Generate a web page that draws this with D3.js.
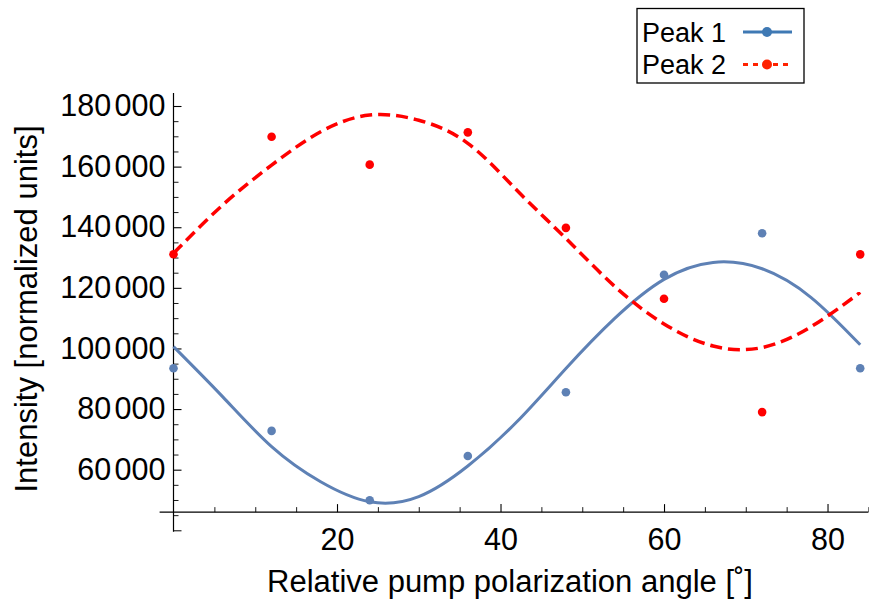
<!DOCTYPE html>
<html>
<head>
<meta charset="utf-8">
<script src="https://cdn.jsdelivr.net/npm/d3@7"></script>
<style>
  html, body { margin: 0; padding: 0; background: #fff; }
  svg { display: block; }
  text { font-family: "Liberation Sans", Arial, Helvetica, sans-serif; fill: #000; }
</style>
</head>
<body>
<svg id="chart" width="869" height="601"></svg>
<script>
// ---- data ----
const angles = [0, 12, 24, 36, 48, 60, 72, 84];
const peak1 = [93450, 72800, 49900, 64500, 85550, 124300, 138000, 93450];
const peak2 = [131100, 169850, 160650, 171300, 139800, 116400, 79000, 131050];

// fitted curves
const fitAngles = [0, 6, 12, 18, 24, 30, 36, 42, 48, 54, 60, 66, 72, 78, 84];
const fit1 = [100600, 84100, 67600, 56000, 49400, 51100, 61200, 75800, 93400, 110000, 122800, 128400, 126300, 116800, 101200];
const fit2 = [131400, 147300, 160500, 171500, 177000, 175300, 167700, 152200, 136300, 120400, 108100, 100800, 100300, 107200, 118500];

const seriesNames = ["Peak 1", "Peak 2"];
const xMajorTicks = [20, 40, 60, 80];
const xMinorTicks = [5, 10, 15, 25, 30, 35, 45, 50, 55, 65, 70, 75, 85];
const yLabeledTicks = [60000, 80000, 100000, 120000, 140000, 160000, 180000];
const yUnlabeledMajor = [40000];
const yMinorTicks = [45000, 50000, 55000, 65000, 70000, 75000, 85000, 90000, 95000, 105000, 110000, 115000,
                     125000, 130000, 135000, 145000, 150000, 155000, 165000, 170000, 175000];
const xTitle = "Relative pump polarization angle [˚]";
const yTitle = "Intensity [normalized units]";

// ---- layout ----
const svg = d3.select("#chart");
const x = d3.scaleLinear().domain([0, 85]).range([173.5, 868.4]);
const y = d3.scaleLinear().domain([40000, 180000]).range([530.3, 106]);
const xMinDom = -1.7, yAxisTop = 184300, yAxisBottom = 39500, xAxisAt = 46000;

const blue = "#5E81B5", red = "#FF0000";
const tickFont = 30.5;

// y axis
const gy = svg.append("g").attr("transform", `translate(${x(0)},0)`);
gy.append("line").attr("x1", 0).attr("x2", 0).attr("y1", y(yAxisTop)).attr("y2", y(yAxisBottom))
  .attr("stroke", "#000").attr("stroke-width", 1.2);
const yMajAxis = d3.axisLeft(y).tickValues(yLabeledTicks).tickSizeInner(-8).tickSizeOuter(0).tickPadding(8);
const gyMaj = gy.append("g").call(yMajAxis);
gyMaj.select(".domain").remove();
gyMaj.selectAll("line").attr("stroke-width", 1.1);
// digit grouping with a thin gap, as in the reference
gyMaj.selectAll("text").attr("font-size", tickFont).each(function (d) {
  const s = String(d);
  const t = d3.select(this).text("");
  t.append("tspan").text(s.slice(0, s.length - 3));
  t.append("tspan").attr("dx", 3.5).text(s.slice(-3));
});
const gyMaj2 = gy.append("g").call(d3.axisLeft(y).tickValues(yUnlabeledMajor).tickSizeInner(-8).tickSizeOuter(0).tickFormat(""));
gyMaj2.select(".domain").remove();
const gyMin = gy.append("g").call(d3.axisLeft(y).tickValues(yMinorTicks).tickSizeInner(-5).tickSizeOuter(0).tickFormat(""));
gyMin.select(".domain").remove();
gyMin.selectAll("line").attr("stroke-width", 0.9);

// x axis
const gx = svg.append("g").attr("transform", `translate(0,${y(xAxisAt)})`);
gx.append("line").attr("x1", x(xMinDom)).attr("x2", x(85)).attr("y1", 0).attr("y2", 0)
  .attr("stroke", "#000").attr("stroke-width", 1.2);
const gxMaj = gx.append("g").call(d3.axisBottom(x).tickValues(xMajorTicks).tickSizeInner(-8).tickSizeOuter(0).tickPadding(16));
gxMaj.select(".domain").remove();
gxMaj.selectAll("text").attr("font-size", tickFont);
gxMaj.selectAll("line").attr("stroke-width", 1.1);
const gxMin = gx.append("g").call(d3.axisBottom(x).tickValues(xMinorTicks).tickSizeInner(-5).tickSizeOuter(0).tickFormat(""));
gxMin.select(".domain").remove();
gxMin.selectAll("line").attr("stroke-width", 0.9);

// titles
svg.append("text").attr("x", 510).attr("y", 592).attr("text-anchor", "middle")
  .attr("font-size", 31).text(xTitle);
svg.append("text").attr("transform", "translate(37,309) rotate(-90)").attr("text-anchor", "middle")
  .attr("font-size", 31).text(yTitle);

// curves
const line = d3.line().x(d => x(d[0])).y(d => y(d[1])).curve(d3.curveNatural);
svg.append("path").datum(fitAngles.map((a, i) => [a, fit1[i]]))
  .attr("d", line).attr("fill", "none").attr("stroke", blue).attr("stroke-width", 3);
svg.append("path").datum(fitAngles.map((a, i) => [a, fit2[i]]))
  .attr("d", line).attr("fill", "none").attr("stroke", red).attr("stroke-width", 3.5)
  .attr("stroke-dasharray", "12,6");

// points
svg.append("g").selectAll("circle").data(angles.map((a, i) => [a, peak1[i]])).join("circle")
  .attr("cx", d => x(d[0])).attr("cy", d => y(d[1])).attr("r", 4.3).attr("fill", blue);
svg.append("g").selectAll("circle").data(angles.map((a, i) => [a, peak2[i]])).join("circle")
  .attr("cx", d => x(d[0])).attr("cy", d => y(d[1])).attr("r", 4.3).attr("fill", red);

// legend
const lg = svg.append("g");
lg.append("rect").attr("x", 637).attr("y", 8.5).attr("width", 167).attr("height", 74.5)
  .attr("fill", "#fff").attr("stroke", "#000").attr("stroke-width", 1.3);
const legendColors = ["#3F79B4", "#FF2200"];
const legendDash = [null, "5,5"];
seriesNames.forEach((name, i) => {
  const cy = 32 + i * 32.5;
  lg.append("text").attr("x", 642).attr("y", cy + 9.5).attr("font-size", 27).text(name);
  lg.append("line").attr("x1", 743).attr("x2", 792).attr("y1", cy).attr("y2", cy)
    .attr("stroke", legendColors[i]).attr("stroke-width", 3)
    .attr("stroke-dasharray", legendDash[i]);
  lg.append("circle").attr("cx", 767).attr("cy", cy).attr("r", 5).attr("fill", legendColors[i]);
});
</script>
</body>
</html>
